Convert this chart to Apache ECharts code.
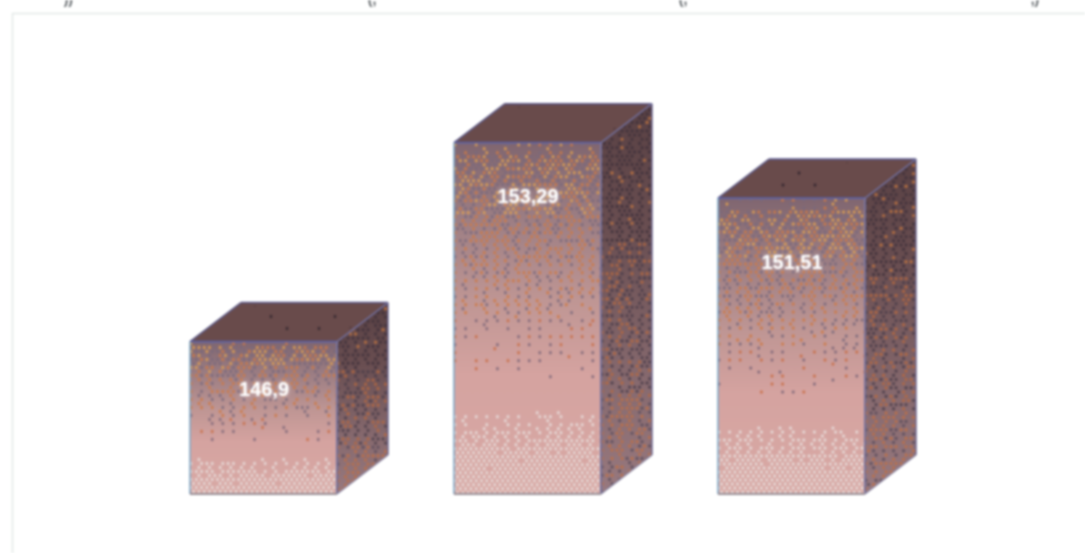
<!DOCTYPE html>
<html><head><meta charset="utf-8">
<style>html,body{margin:0;padding:0;background:#fff;overflow:hidden}#c{width:1085px;height:553px}#c canvas{filter:blur(0.8px)}</style>
<script src="https://cdn.jsdelivr.net/npm/echarts@6/dist/echarts.min.js"></script>
</head><body><div id="c"></div>
<script>
const categories = ['A', 'B', 'C'];
const values = [146.9, 153.29, 151.51];
const valueLabels = ['146,9', '153,29', '151,51'];
const clippedHeaderTexts = ['))\'', '(,', '(,', ',)'];

const DEPTH_X = 51, DEPTH_Y = 39, BAR_RATIO = 0.557;
const LABEL_DROP = [49, 55, 65];
const HEADER_X = [70, 372, 683, 1035];
const BAYER = [[0, 8, 2, 10], [12, 4, 14, 6], [3, 11, 1, 9], [15, 7, 13, 5]];

function noise(i, j, k) {
  const s = Math.sin(i * 12.9898 + j * 78.233 + k * 37.719) * 43758.5453;
  return s - Math.floor(s);
}
function stipple(w, h, pitchX, pitchY, k, pick, clip) {
  const cv = document.createElement('canvas');
  cv.width = Math.ceil(w); cv.height = Math.ceil(h);
  const g = cv.getContext('2d');
  if (clip) { clip(g); g.clip(); }
  const rows = Math.ceil(h / pitchY), cols = Math.ceil(w / pitchX) + 1;
  for (let r = 0; r <= rows; r++) {
    for (let c = 0; c <= cols; c++) {
      const x = c * pitchX + (r % 2 ? pitchX / 2 : 0) + 1;
      const y = r * pitchY + 2;
      if (y > h) continue;
      const order = (BAYER[r % 4][c % 4] + 0.5) / 16;
      const a = 0.65 * order + 0.35 * noise(c, r, k);
      const dot = pick(x / w, y / h, a, noise(r, c, k + 5));
      if (!dot) continue;
      g.fillStyle = dot;
      g.beginPath(); g.arc(x, y, 1.45, 0, 7); g.fill();
    }
  }
  return cv;
}
function frontDot(u, t, a, b) {
  if (t < 0.68) {
    const p = t < 0.035 ? 0.3 : 0.92 - 1.15 * t;
    if (a > p) return null;
    if (t < 0.2 && b < 0.3) return '#e0a050';
    if (t < 0.5) return b < 0.62 ? '#cf7a45' : '#7b6a7c';
    return b < 0.45 ? '#c96f48' : '#80697a';
  }
  if (t > 0.765) {
    return a < 0.3 + (t - 0.765) * 3.6 ? '#e8dedc' : null;
  }
  return null;
}
function sideDot(u, t, a, b) {
  const p = 0.66 - 0.1 * t;
  if (a > p) return null;
  if (t < 0.35) return b < 0.9 ? '#40323c' : '#c4763f';
  if (t < 0.75) return b < 0.55 ? '#4c3e4a' : '#b8693f';
  return b < 0.35 ? '#5c4e5c' : '#c07045';
}
function topDot(u, t, a) {
  return a < 0.14 ? '#352830' : null;
}

const cache = {};
function renderBar(params, api) {
  const i = params.dataIndex;
  const top = api.coord([api.value(0), api.value(1)]);
  const base = api.coord([api.value(0), 142]);
  const w = api.size([1, 0])[0] * BAR_RATIO;
  const xl = top[0] - w / 2, xr = top[0] + w / 2, yt = top[1], yb = base[1];
  const h = yb - yt;
  if (!cache[i]) {
    cache[i] = {
      front: stipple(w, h, 5.3, 4, i + 1, frontDot),
      side: stipple(DEPTH_X, h + DEPTH_Y, 5, 4.2, i + 11, sideDot, g => {
        g.beginPath(); g.moveTo(1, DEPTH_Y + 1); g.lineTo(DEPTH_X - 1, 1);
        g.lineTo(DEPTH_X - 1, h - 1); g.lineTo(1, h + DEPTH_Y - 1); g.closePath();
      }),
      top: stipple(w + DEPTH_X, DEPTH_Y, 8, 6, i + 21, topDot, g => {
        g.beginPath(); g.moveTo(6, DEPTH_Y - 4); g.lineTo(DEPTH_X + 2, 3);
        g.lineTo(w + DEPTH_X - 6, 3); g.lineTo(w, DEPTH_Y - 4); g.closePath();
      })
    };
  }
  const tex = cache[i];
  const img = (cv, x, y) => ({ type: 'image', style: { image: cv, x, y, width: cv.width, height: cv.height }, silent: true });
  const grad = stops => ({ type: 'linear', x: 0, y: 0, x2: 0, y2: 1,
    colorStops: stops.map(s => ({ offset: s[0], color: s[1] })) });
  const line = (x1, y1, x2, y2, color, width) => ({ type: 'line', shape: { x1, y1, x2, y2 }, style: { stroke: color, lineWidth: width } });
  return {
    type: 'group',
    children: [
      { type: 'polygon', shape: { points: [[xl, yt], [xr, yt], [xr, yb], [xl, yb]] },
        style: { fill: grad([[0, '#806670'], [0.2, '#9a7c82'], [0.45, '#bf9694'], [0.66, '#d5a3a0'], [1, '#d8a9a5']]) } },
      { type: 'polygon', shape: { points: [[xr, yt], [xr + DEPTH_X, yt - DEPTH_Y], [xr + DEPTH_X, yb - DEPTH_Y], [xr, yb]] },
        style: { fill: grad([[0, '#594144'], [0.3, '#684d50'], [0.7, '#86696e'], [1, '#98797f']]) } },
      { type: 'polygon', shape: { points: [[xl, yt], [xl + DEPTH_X, yt - DEPTH_Y], [xr + DEPTH_X, yt - DEPTH_Y], [xr, yt]] },
        style: { fill: '#694b4b' } },
      img(tex.front, xl, yt),
      img(tex.side, xr, yt - DEPTH_Y),
      img(tex.top, xl, yt - DEPTH_Y),
      line(xl, yt, xl + DEPTH_X, yt - DEPTH_Y, '#5f5b86', 1.6),
      line(xl + DEPTH_X, yt - DEPTH_Y, xr + DEPTH_X, yt - DEPTH_Y, '#5c5a8c', 1.6),
      line(xr + DEPTH_X, yt - DEPTH_Y, xr + DEPTH_X, yb - DEPTH_Y, '#6a6590', 1.4),
      line(xr + DEPTH_X, yt - DEPTH_Y, xr, yt, '#6f6c96', 1.6),
      line(xl, yt, xr, yt, '#5d62a4', 1.8),
      line(xr, yt, xr, yb, '#77729a', 2),
      line(xl, yt, xl, yb, '#7fa9c8', 1.6),
      line(xl, yb, xr, yb, '#9a8f96', 2),
      line(xr, yb, xr + DEPTH_X, yb - DEPTH_Y, '#8f8aa6', 1.4),
      { type: 'text', style: { x: top[0] + 0.5, y: yt + LABEL_DROP[i], text: valueLabels[i],
          fill: '#fff', font: 'bold 20px "Liberation Sans", sans-serif', align: 'center', verticalAlign: 'middle',
          textShadowColor: 'rgba(255,255,255,0.6)', textShadowBlur: 4 } }
    ]
  };
}

const chart = echarts.init(document.getElementById('c'), null, { renderer: 'canvas' });
chart.setOption({
  animation: false,
  backgroundColor: '#fff',
  grid: { left: 131.5, top: 58.4, width: 792, height: 435.6 },
  xAxis: { type: 'category', data: categories, show: false },
  yAxis: { type: 'value', min: 142, max: 156, show: false },
  graphic: [
    { type: 'rect', shape: { x: 12.5, y: 13.5, width: 1100, height: 600 }, style: { fill: 'none', stroke: '#e3e9e6', lineWidth: 1.5 }, silent: true }
  ].concat(clippedHeaderTexts.map((t, k) => ({
    type: 'text', x: HEADER_X[k], y: -7, silent: true,
    style: { text: t, fill: '#5f6468', font: 'bold 14px "Liberation Sans", sans-serif', align: 'center' }
  }))),
  series: [{
    type: 'custom',
    renderItem: renderBar,
    encode: { x: 0, y: 1 },
    data: categories.map((c, k) => [c, values[k]]),
    clip: false
  }]
});
</script></body></html>
